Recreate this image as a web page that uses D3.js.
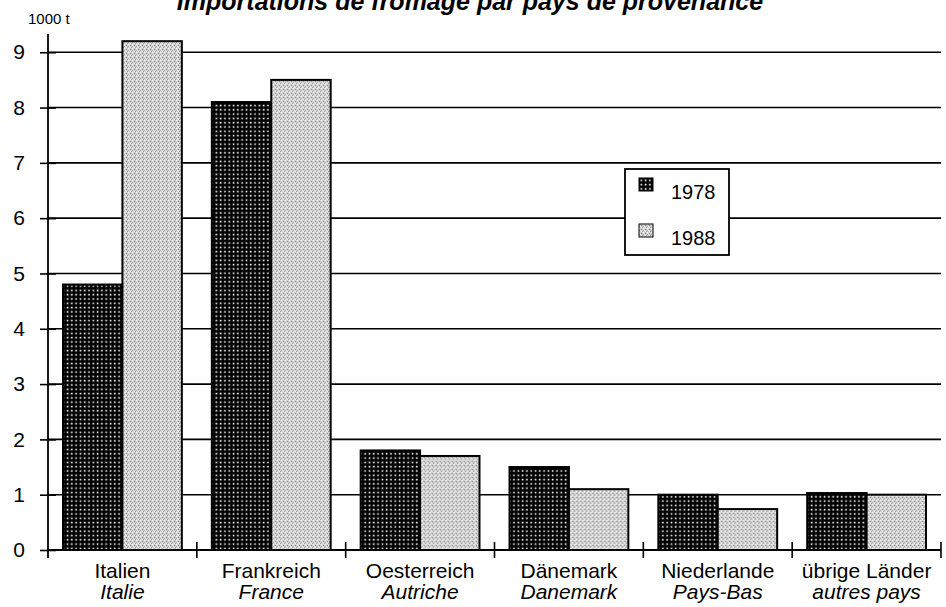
<!DOCTYPE html>
<html>
<head>
<meta charset="utf-8">
<script src="https://cdn.jsdelivr.net/npm/d3@7"></script>
<style>
  body { margin: 0; background: #fff; }
  svg { display: block; font-family: "Liberation Sans", Arial, sans-serif; }
</style>
</head>
<body>
<svg id="chart" width="946" height="607"></svg>
<script>
const countriesDe = ['Italien', 'Frankreich', 'Oesterreich', 'Dänemark', 'Niederlande', 'übrige Länder'];
const countriesFr = ['Italie', 'France', 'Autriche', 'Danemark', 'Pays-Bas', 'autres pays'];
const years = ['1978', '1988'];
const values1978 = [4.8, 8.1, 1.8, 1.5, 1.0, 1.03];
const values1988 = [9.2, 8.5, 1.7, 1.1, 0.74, 1.0];
const yTicks = [0, 1, 2, 3, 4, 5, 6, 7, 8, 9];

const title = 'Importations de fromage par pays de provenance';
const unitLabel = '1000 t';

const svg = d3.select('#chart');

const plotLeft = 48;
const plotRight = 941;
const plotBottom = 550;
const plotTop = 34;

const x0 = d3.scaleBand().domain(countriesDe).range([plotLeft, plotRight]);
const x1 = d3.scaleBand().domain(years).range([15, x0.bandwidth() - 15]);
const y = d3.scaleLinear().domain([0, 9.33]).range([plotBottom, plotTop]);

const series = { '1978': values1978, '1988': values1988 };

// patterns
const defs = svg.append('defs');

const dark = defs
  .append('pattern')
  .attr('id', 'dark')
  .attr('patternUnits', 'userSpaceOnUse')
  .attr('width', 4.3)
  .attr('height', 4.3);
dark.append('rect').attr('width', 4.3).attr('height', 4.3).attr('fill', '#000');
dark
  .append('rect')
  .attr('x', 1.5)
  .attr('y', 1.5)
  .attr('width', 1.6)
  .attr('height', 1.6)
  .attr('fill', '#fff');

const light = defs
  .append('pattern')
  .attr('id', 'light')
  .attr('patternUnits', 'userSpaceOnUse')
  .attr('width', 4)
  .attr('height', 4);
light.append('rect').attr('width', 4).attr('height', 4).attr('fill', '#d0d0d0');
[[0, 0, '#fff'], [2, 1, '#808080'], [1, 2, '#f4f4f4'], [3, 3, '#959595'], [2, 3, '#fff'], [0, 2, '#aaa']].forEach(
  ([px, py, c]) => {
    light.append('rect').attr('x', px).attr('y', py).attr('width', 1).attr('height', 1).attr('fill', c);
  }
);

const fills = { '1978': 'url(#dark)', '1988': 'url(#light)' };

// title (cut at the top edge, as in the source)
svg
  .append('text')
  .attr('x', 470)
  .attr('y', 10)
  .attr('text-anchor', 'middle')
  .style('font', 'italic bold 25px "Liberation Sans", Arial, sans-serif')
  .text(title);

svg
  .append('text')
  .attr('x', 28)
  .attr('y', 24)
  .style('font-size', '15px')
  .text(unitLabel);

// gridlines
svg
  .append('g')
  .selectAll('line')
  .data(yTicks.filter(d => d > 0))
  .join('line')
  .attr('x1', plotLeft)
  .attr('x2', plotRight)
  .attr('y1', d => y(d))
  .attr('y2', d => y(d))
  .attr('stroke', '#000')
  .attr('stroke-width', 1.6);

// y axis
const yAxis = svg.append('g').attr('transform', `translate(${plotLeft},0)`);
yAxis
  .call(d3.axisLeft(y).tickValues(yTicks).tickSize(8).tickPadding(15))
  .call(g => g.select('.domain').remove())
  .call(g => g.selectAll('.tick line').attr('stroke-width', 1.6).attr('x2', -8).attr('x1', 8))
  .call(g => g.selectAll('.tick text').style('font-size', '21px').attr('fill', '#000').attr('font-family', '"Liberation Sans", Arial, sans-serif'));

yAxis
  .append('line')
  .attr('x1', 0)
  .attr('x2', 0)
  .attr('y1', y(0) + 8)
  .attr('y2', y.range()[1])
  .attr('stroke', '#000')
  .attr('stroke-width', 1.8);

// bars
const groups = svg
  .append('g')
  .selectAll('g')
  .data(countriesDe)
  .join('g')
  .attr('transform', d => `translate(${x0(d)},0)`);

groups
  .selectAll('rect')
  .data((d, i) => years.map(yr => ({ yr, v: series[yr][i] })))
  .join('rect')
  .attr('x', d => x1(d.yr))
  .attr('width', x1.bandwidth())
  .attr('y', d => y(d.v))
  .attr('height', d => y(0) - y(d.v))
  .attr('fill', d => fills[d.yr])
  .attr('stroke', '#000')
  .attr('stroke-width', 2);

// x axis
const xAxis = svg.append('g').attr('transform', `translate(0,${plotBottom})`);
xAxis
  .append('line')
  .attr('x1', plotLeft)
  .attr('x2', plotRight)
  .attr('stroke', '#000')
  .attr('stroke-width', 1.8);

const boundaries = countriesDe.map(d => x0(d)).concat([x0.range()[1]]);
xAxis
  .selectAll('.sep')
  .data(boundaries.slice(1))
  .join('line')
  .attr('class', 'sep')
  .attr('x1', d => d)
  .attr('x2', d => d)
  .attr('y1', -8)
  .attr('y2', 8)
  .attr('stroke', '#000')
  .attr('stroke-width', 1.6);

const labels = xAxis
  .selectAll('.lab')
  .data(countriesDe)
  .join('g')
  .attr('class', 'lab')
  .attr('transform', d => `translate(${x0(d) + x0.bandwidth() / 2},0)`);

labels
  .append('text')
  .attr('y', 28)
  .attr('text-anchor', 'middle')
  .style('font-size', '21px')
  .text(d => d);

labels
  .append('text')
  .attr('y', 49)
  .attr('text-anchor', 'middle')
  .style('font-size', '21px')
  .style('font-style', 'italic')
  .text((d, i) => countriesFr[i]);

// legend
const legend = svg.append('g').attr('transform', 'translate(625,169)');
legend
  .append('rect')
  .attr('width', 104)
  .attr('height', 86)
  .attr('fill', '#fff')
  .attr('stroke', '#000')
  .attr('stroke-width', 1.8);

const items = legend
  .selectAll('.item')
  .data(years)
  .join('g')
  .attr('class', 'item')
  .attr('transform', (d, i) => `translate(14,${9 + i * 46})`);

items
  .append('rect')
  .attr('width', 14)
  .attr('height', 13)
  .attr('fill', d => fills[d])
  .attr('stroke', '#000')
  .attr('stroke-width', 1);

items
  .append('text')
  .attr('x', 32)
  .attr('y', 21)
  .style('font-size', '20px')
  .text(d => d);
</script>
</body>
</html>
